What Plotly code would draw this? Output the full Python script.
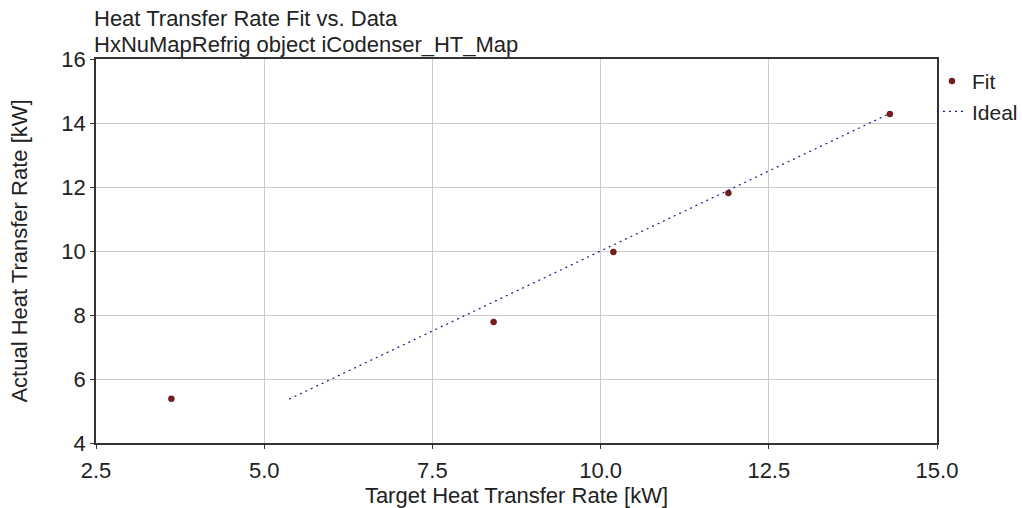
import plotly.graph_objects as go

target = [3.62, 8.41, 10.19, 11.90, 14.30]
actual = [5.38, 7.78, 9.97, 11.81, 14.28]
ideal_x = [5.37, 14.28]
ideal_y = [5.37, 14.28]

title1 = "Heat Transfer Rate Fit vs. Data"
title2 = "HxNuMapRefrig object iCodenser_HT_Map"

FONT = "Liberation Sans, Arial, sans-serif"
FS = 22

fig = go.Figure()
fig.add_trace(go.Scatter(x=target, y=actual, mode="markers", name="Fit",
                         marker=dict(color="#7a1a1a", size=6,
                                     line=dict(color="#3a0a0a", width=0.5))))
fig.add_trace(go.Scatter(x=ideal_x, y=ideal_y, mode="lines", name="Ideal",
                         line=dict(color="#1a1a8c", width=1.2, dash="2px,4px")))

axis_common = dict(showgrid=True, gridcolor="#cccccc", gridwidth=1,
                   showline=True, linecolor="#333333", linewidth=1.5, mirror=True,
                   ticks="outside", ticklen=4, tickcolor="#333333", zeroline=False,
                   automargin=False,
                   tickfont=dict(family=FONT, size=FS, color="#222222"))

fig.update_layout(
    width=1022, height=508,
    margin=dict(l=96, r=85, t=59, b=65, autoexpand=False),
    paper_bgcolor="white", plot_bgcolor="white",
    font=dict(family=FONT, size=FS, color="#222222"),
    xaxis=dict(range=[2.5, 15.0], tickvals=[2.5, 5.0, 7.5, 10.0, 12.5, 15.0],
               ticktext=["2.5", "5.0", "7.5", "10.0", "12.5", "15.0"],
               ticklabelstandoff=3,
               title=dict(text="Target Heat Transfer Rate [kW]", standoff=6,
                          font=dict(family=FONT, size=22)),
               **axis_common),
    yaxis=dict(range=[4, 16], tickvals=[4, 6, 8, 10, 12, 14, 16],
               title=dict(text="Actual Heat Transfer Rate [kW]", standoff=28,
                          font=dict(family=FONT, size=22)),
               **axis_common),
    legend=dict(x=0.994, xanchor="left", y=0.995, yanchor="top", xref="paper",
                bgcolor="rgba(0,0,0,0)", font=dict(family=FONT, size=21),
                itemwidth=30, tracegroupgap=0),
    showlegend=True,
    annotations=[
        dict(text=title1, xref="paper", yref="paper", x=0, y=1, xanchor="left",
             yanchor="bottom", yshift=26, showarrow=False, xshift=-4,
             font=dict(family=FONT, size=FS, color="#222222")),
        dict(text=title2, xref="paper", yref="paper", x=0, y=1, xanchor="left",
             yanchor="bottom", yshift=0, showarrow=False, xshift=-4,
             font=dict(family=FONT, size=FS, color="#222222")),
    ],
)

fig.write_html("out.html")
